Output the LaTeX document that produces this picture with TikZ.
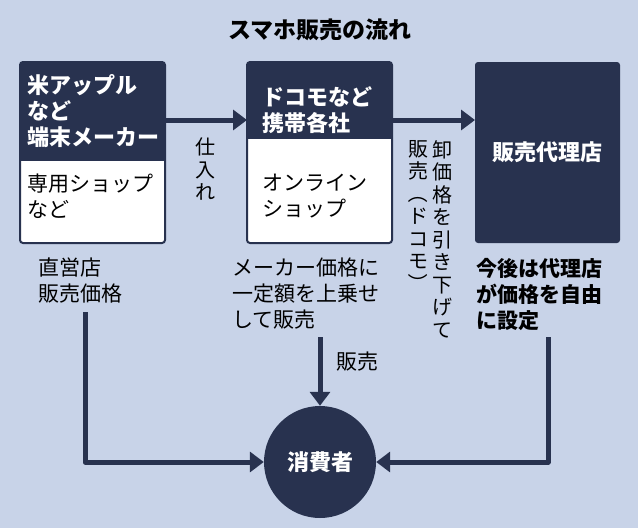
\documentclass[tikz,border=0pt]{standalone}
\usepackage{fontspec}
\newfontfamily\cjk{Noto Sans CJK JP}
\usetikzlibrary{arrows.meta}
\definecolor{bg}{HTML}{C8D3E8}
\definecolor{navy}{HTML}{28324F}
\newcommand{\vr}[1]{\rotatebox[origin=c]{-90}{#1}}
\begin{document}
\begin{tikzpicture}[x=1pt,y=-1pt,
  wt/.style={text=white,font=\cjk\bfseries\fontsize{22}{26}\selectfont,align=left,anchor=north west,inner sep=0pt},
  bt/.style={text=black,font=\cjk\fontsize{21}{26}\selectfont,align=left,anchor=north west,inner sep=0pt},
  vt/.style={text=black,font=\cjk\fontsize{20}{22.5}\selectfont,align=center,anchor=north,inner sep=0pt},
  ln/.style={draw=navy,line width=5pt},
  arr/.style={ln,-{Triangle[length=14pt,width=20pt]}}]
\fill[bg] (0,0) rectangle (638,528);
\node[font=\cjk\bfseries\fontsize{23}{27}\selectfont] (title) at (320,30) {スマホ販売の流れ};
% box1
\draw[navy,fill=white,line width=2pt,rounded corners=3pt] (20,62) rectangle (165,243);
\fill[navy,rounded corners=3pt] (20,62) rectangle (165,160);
\fill[navy] (21,150) rectangle (164,161);
\node[wt] (b1) at (27,74) {米アップル\\など\\端末メーカー};
\node[bt] (b1s) at (27,174) {専用ショップ\\など};
% box2
\draw[navy,fill=white,line width=2pt,rounded corners=3pt] (247,62) rectangle (392,243);
\fill[navy,rounded corners=3pt] (247,62) rectangle (392,138);
\fill[navy] (248,128) rectangle (391,139);
\node[wt] (b2) at (262,86) {ドコモなど\\携帯各社};
\node[bt] (b2s) at (262,174) {オンライン\\ショップ};
% box3
\fill[navy,rounded corners=3pt] (475,62) rectangle (620,243);
\node[wt,anchor=center] (b3) at (547,152) {販売代理店};
% arrows top
\coordinate (a1s) at (166,120); \coordinate (a1e) at (247,120);
\draw[arr] (a1s) -- (a1e);
\coordinate (a2s) at (393,120); \coordinate (a2e) at (475,120);
\draw[arr] (a2s) -- (a2e);
\node[vt] (shiire) at (205,138) {仕\\入\\れ};
\node[vt] (oroshi) at (442,140) {卸\\価\\格\\を\\引\\き\\下\\げ\\て};
\node[vt] (hanbai) at (418,140) {販\\売\\\vr{（}\\ド\\コ\\モ\\\vr{）}};
% texts under boxes
\node[bt] (t1) at (38,258) {直営店\\販売価格};
\node[bt] (t2) at (232,258) {メーカー価格に\\一定額を上乗せ\\して販売};
\node[bt,font=\cjk\bfseries\fontsize{21}{26}\selectfont] (t3) at (476,258) {今後は代理店\\が価格を自由\\に設定};
% consumer
\node[circle,fill=navy,minimum size=112pt,text=white,font=\cjk\bfseries\fontsize{22}{26}\selectfont] (c) at (320,462) {消費者};
\coordinate (m) at (320,337);
\draw[arr] (m) -- (c.north);
\node[bt,anchor=west] (hb) at (336,362) {販売};
\coordinate (l1) at (85,312); \coordinate (l1c) at (85,462);
\draw[ln,-{Triangle[length=14pt,width=20pt]},line join=round] (l1) -- (l1c) -- (c.west);
\coordinate (r1) at (548,337); \coordinate (r1c) at (548,462);
\draw[ln,-{Triangle[length=14pt,width=20pt]},line join=round] (r1) -- (r1c) -- (c.east);
\end{tikzpicture}
\end{document}
